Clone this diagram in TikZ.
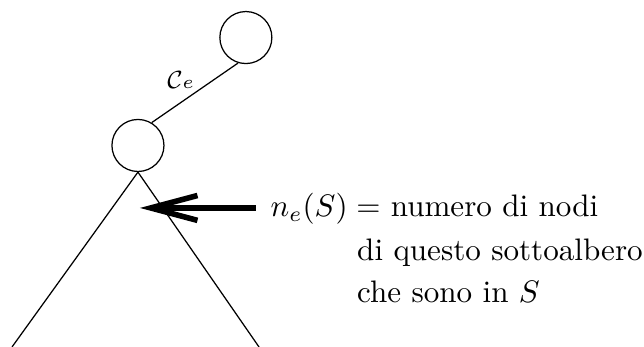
\documentclass[tikz,border=0pt]{standalone}
\usepackage{amsmath,amssymb}
\usepackage{tikz}
\usetikzlibrary{arrows.meta, positioning}

\begin{document}
\begin{tikzpicture}[
    vtx/.style={circle, draw, minimum size=0.588cm, inner sep=0pt},
    txt/.style={anchor=base west},
    arr/.style={-{Straight Barb[length=15pt, width=8pt]}, line width=1.8pt}
]
\useasboundingbox (0,0) rectangle (7.278,3.921);
\node[vtx] (low) at (1.559,2.277) {};
\node[vtx, above right=0.794cm and 0.794cm of low] (top) {};
\draw (low.59) -- node[pos=0.46, xshift=-3.5pt, yshift=5pt] (ce) {\footnotesize$\mathcal{C}{\scriptstyle e}$} (top.253);
% sottoalbero
\coordinate (bl) at (0.136,0);
\coordinate (br) at (2.927,0);
\draw (bl) -- (low.south) -- (br);
% etichetta
\node[txt, inner xsep=4.5pt] (ne) at (2.893,1.469) {$n_e(S) =$ numero di nodi};
\node[txt] (sub) at (3.913,0.972) {di questo sottoalbero};
\node[txt] (ins) at (3.913,0.497) {che sono in $S$};
\coordinate (tip) at (1.582,1.571);
\draw[arr] (ne.west |- tip) -- (tip);
\end{tikzpicture}
\end{document}
